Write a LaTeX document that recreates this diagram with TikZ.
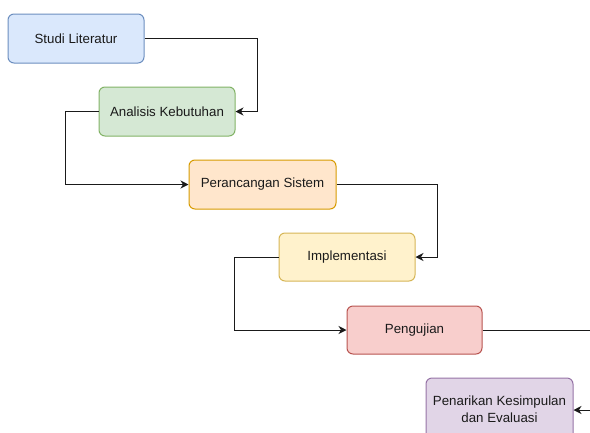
\documentclass[tikz,border=0pt]{standalone}
\usepackage{fontspec}
\setmainfont{Liberation Sans}
\usetikzlibrary{arrows.meta}

\definecolor{blueF}{HTML}{DAE8FC}\definecolor{blueS}{HTML}{6C8EBF}
\definecolor{greenF}{HTML}{D5E8D4}\definecolor{greenS}{HTML}{82B366}
\definecolor{orangeF}{HTML}{FFE6CC}\definecolor{orangeS}{HTML}{D79B00}
\definecolor{yellowF}{HTML}{FFF2CC}\definecolor{yellowS}{HTML}{D6B656}
\definecolor{redF}{HTML}{F8CECC}\definecolor{redS}{HTML}{B85450}
\definecolor{purpleF}{HTML}{E1D5E7}\definecolor{purpleS}{HTML}{9673A6}
\definecolor{ink}{HTML}{1A1A1A}

\tikzset{
  stage/.style={draw, line width=1pt, rounded corners=6pt, align=center,
    font=\fontsize{13.3}{17}\selectfont, text=ink, inner sep=0pt},
  flow/.style={draw=ink, line width=1pt,
    -{Stealth[length=8pt,width=8pt,inset=2.5pt]}},
}

\begin{document}
\begin{tikzpicture}[x=1pt,y=-1pt]
  \useasboundingbox (0,0) rectangle (590,432);
  \clip (0,0) rectangle (590,432);

  % process stages
  \node[stage, fill=blueF, draw=blueS, minimum width=136pt, minimum height=49pt]
    (studi) at (76,38.5) {Studi Literatur};
  \node[stage, fill=greenF, draw=greenS, minimum width=136pt, minimum height=49pt]
    (analisis) at (167,111.5) {Analisis Kebutuhan};
  \node[stage, fill=orangeF, draw=orangeS, minimum width=147pt, minimum height=49pt]
    (perancangan) at (262.5,184.5) {Perancangan Sistem};
  \node[stage, fill=yellowF, draw=yellowS, minimum width=136pt, minimum height=48pt]
    (implementasi) at (347,257) {Implementasi};
  \node[stage, fill=redF, draw=redS, minimum width=135pt, minimum height=48pt]
    (pengujian) at (414.5,330) {Pengujian};
  \node[stage, fill=purpleF, draw=purpleS, minimum width=147pt, minimum height=62pt]
    (penarikan) at (499.5,409) {Penarikan Kesimpulan\\dan Evaluasi};

  % bend points of the connectors
  \coordinate (c1) at (257,0);
  \coordinate (c2) at (65,0);
  \coordinate (c3) at (437,0);
  \coordinate (c4) at (234,0);
  \coordinate (c5) at (610,0);

  % connectors
  \draw[flow] (studi.east) -| (c1 |- studi.east) |- (analisis.east);
  \draw[flow] (analisis.west) -| (c2 |- analisis.west) |- (perancangan.west);
  \draw[flow] (perancangan.east) -| (c3 |- perancangan.east) |- (implementasi.east);
  \draw[flow] (implementasi.west) -| (c4 |- implementasi.west) |- (pengujian.west);
  \draw[flow] (pengujian.east) -| (c5 |- pengujian.east) |- ([yshift=-1pt]penarikan.east);
\end{tikzpicture}
\end{document}
